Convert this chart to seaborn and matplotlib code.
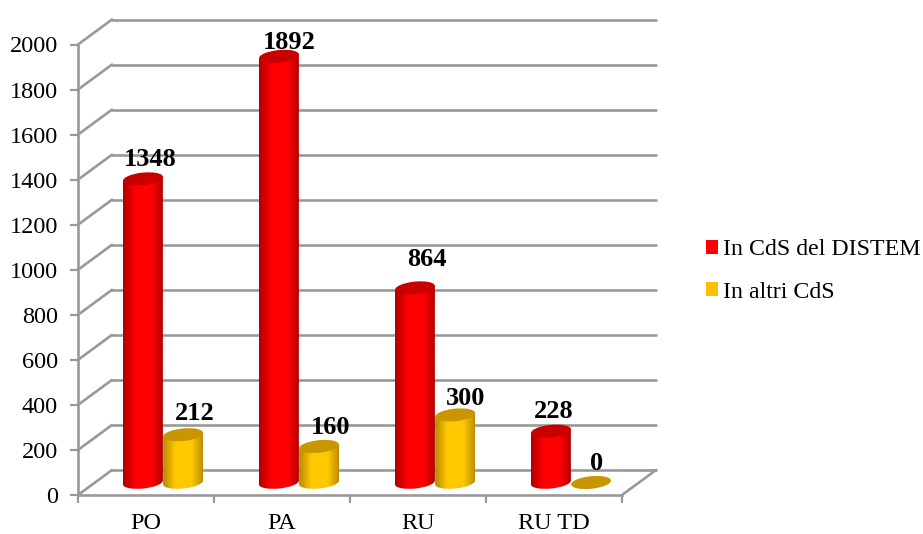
import numpy as np
import pandas as pd
import matplotlib
matplotlib.use("Agg")
import matplotlib.pyplot as plt
import seaborn as sns
from matplotlib.colors import LinearSegmentedColormap
from matplotlib.patches import Ellipse, Patch, Polygon
from matplotlib.transforms import Affine2D, IdentityTransform

categories = ["PO", "PA", "RU", "RU TD"]
series_names = ["In CdS del DISTEM", "In altri CdS"]
in_distem = [1348, 1892, 864, 228]
in_altri = [212, 160, 300, 0]
y_ticks = [0, 200, 400, 600, 800, 1000, 1200, 1400, 1600, 1800, 2000]

colors = ["#ff0000", "#ffc000"]
bright = ["#ff0000", "#ffc800"]
dark = ["#c80000", "#c89600"]
edge = ["#b00000", "#bc8a00"]
grey = "#999999"

# the value labels were placed by hand in the original, nudges in pixels
nudge = [[(-2, -1), (1, -6), (3, 8), (-6, 0)],
         [(3, 1), (3, -1), (2, -4), (-3, -1)]]

W, H = 923, 534
sns.set_theme(style="white")
plt.rcParams["font.family"] = ["Liberation Serif", "DejaVu Serif"]

df = pd.DataFrame({
    "cat": categories * 2,
    "serie": [series_names[0]] * 4 + [series_names[1]] * 4,
    "val": in_distem + in_altri,
})

fig = plt.figure(figsize=(W / 100, H / 100), dpi=100)
# front plane of the box in pixels
x0, x1, y0, y1 = 78, 622, 495, 44.5
ax = fig.add_axes([x0 / W, 1 - y0 / H, (x1 - x0) / W, (y0 - y1) / H])
ax.patch.set_alpha(0)

sns.barplot(data=df, x="cat", y="val", hue="serie", hue_order=series_names, order=categories,
            palette=colors, width=0.59, gap=0, legend=False, ax=ax, zorder=3)
ax.set_xlim(-0.5, 3.5)
ax.set_ylim(0, 2000)
ax.set_xlabel("")
ax.set_ylabel("")

px_x = (x1 - x0) / 4
px_y = (y0 - y1) / 2000
# depth of the box, in data units
depth_x = 34 / px_x
depth_y = 25 / px_y

# back wall and side lines
for t in y_ticks:
    ax.plot([-0.5, -0.5 + depth_x], [t, t + depth_y], color=grey, lw=1.9, clip_on=False, zorder=1)
    ax.plot([-0.5 + depth_x, 3.5 + depth_x], [t + depth_y, t + depth_y], color=grey, lw=1.9, clip_on=False, zorder=1)
ax.plot([3.5, 3.5 + depth_x], [0, depth_y], color=grey, lw=1.9, clip_on=False, zorder=1)

# bars stand half way into the box
shift = Affine2D().translate(depth_x / 2, depth_y / 2) + ax.transData
tilt = 6
for i, cont in enumerate(ax.containers):
    grad = LinearSegmentedColormap.from_list(
        "g", [(0, edge[i]), (0.3, bright[i]), (0.7, bright[i]), (1, edge[i])])
    for j, (bar, val) in enumerate(zip(cont, cont.datavalues)):
        bx, bw = bar.get_x(), bar.get_width()
        bar.set_visible(False)
        cx, base = shift.transform((bx + bw / 2, 0))
        _, top = shift.transform((bx + bw / 2, val))
        w_px = bw * px_x
        z = 3 + i + 0.1 * j
        if val > 0:
            img = np.linspace(0, 1, 64).reshape(1, -1)
            ex = w_px / 2 * np.cos(np.radians(tilt))
            ey = w_px / 2 * np.sin(np.radians(tilt))
            body = Polygon([(cx - ex, base - ey), (cx + ex, base + ey), (cx + ex, top + ey), (cx - ex, top - ey)],
                           transform=IdentityTransform(), facecolor="none", edgecolor="none")
            low = Ellipse((cx, base), w_px, 12, angle=tilt, transform=IdentityTransform(),
                          facecolor="none", edgecolor="none")
            for clip in [body, low]:
                ax.add_artist(clip)
                clip.set_clip_on(False)
                im = ax.imshow(img, cmap=grad, aspect="auto", extent=(bx, bx + bw, -60, val + 60),
                               transform=shift, zorder=z)
                im.set_clip_path(clip)
        cap = Ellipse((cx, top), w_px, 12.5, angle=tilt, transform=IdentityTransform(),
                      facecolor=dark[i], edgecolor="none", zorder=z + 0.05, clip_on=False)
        ax.add_artist(cap)
        dx, dy = nudge[i][j]
        ax.annotate(f"{int(val)}", (bx + bw / 2, val), xycoords=shift,
                    xytext=((9 + dx) * 0.72, (20 + dy) * 0.72),
                    textcoords="offset points", ha="center", va="center",
                    fontsize=19, fontweight="bold", color="black", zorder=10, annotation_clip=False)

ax.set_xlim(-0.5, 3.5)
ax.set_ylim(0, 2000)

for s in ["top", "right"]:
    ax.spines[s].set_visible(False)
for s in ["left", "bottom"]:
    ax.spines[s].set_color(grey)
    ax.spines[s].set_linewidth(1.9)
ax.set_yticks(y_ticks)
ax.set_xticks(range(len(categories)))
ax.set_xticklabels(categories)
ax.set_xticks(np.arange(-0.5, 4), minor=True)
ax.tick_params(axis="x", which="major", length=0, labelsize=17.5, labelcolor="black", pad=13)
ax.tick_params(axis="x", which="minor", length=6, width=1.6, color=grey, bottom=True)
ax.tick_params(axis="y", length=6, width=1.6, color=grey, labelsize=17.5, labelcolor="black", pad=8.5, left=True)

handles = [Patch(facecolor=c, edgecolor="none") for c in colors]
fig.legend(handles, series_names, loc="center left", bbox_to_anchor=(706 / W, 1 - 271 / H), frameon=False,
           fontsize=17.2, handlelength=0.52, handleheight=0.52, handletextpad=0.18, labelspacing=0.9,
           labelcolor="black", borderpad=0, borderaxespad=0)

fig.savefig("out.png", dpi=100)
